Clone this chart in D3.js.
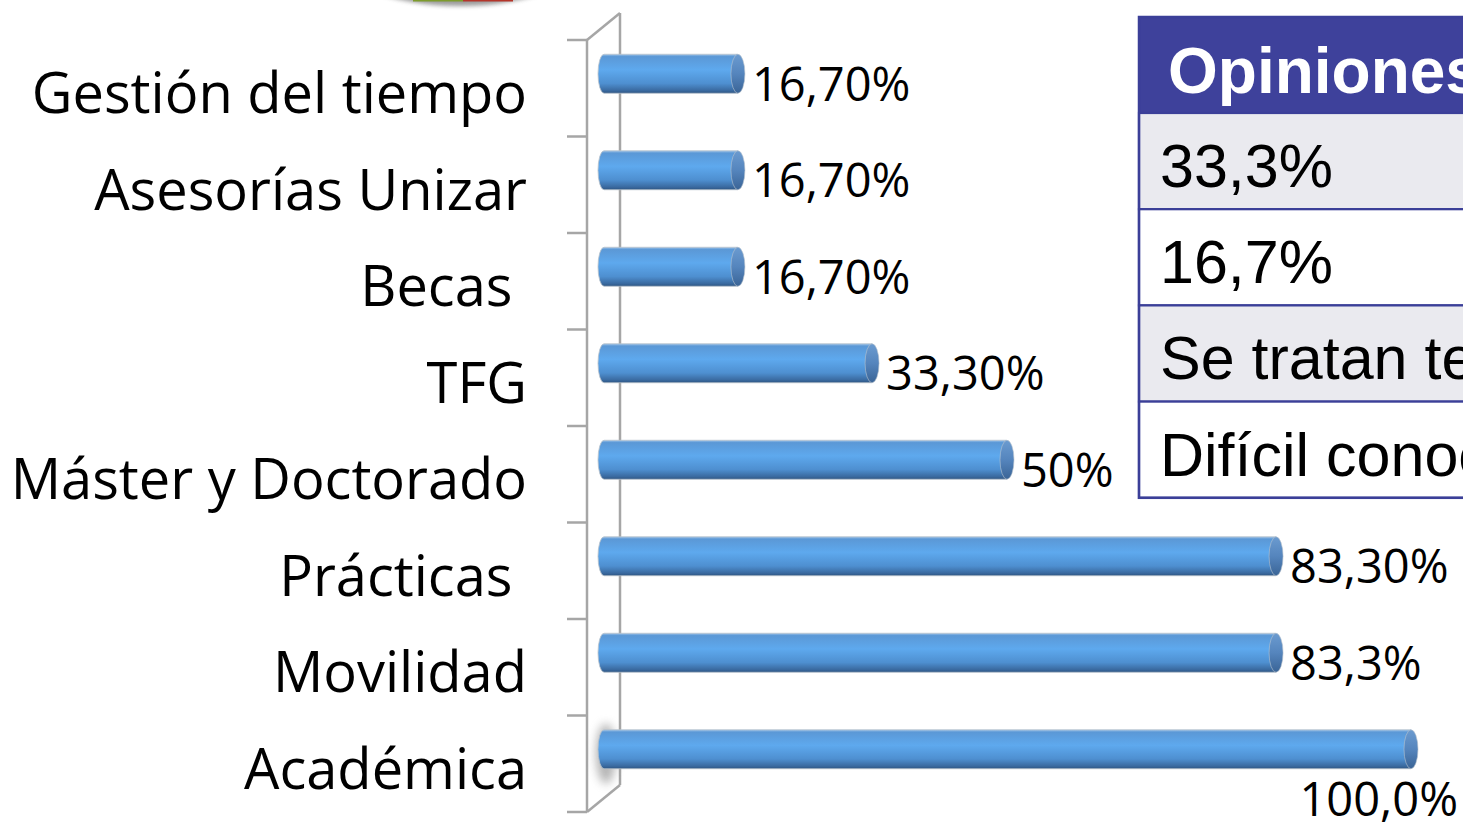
<!DOCTYPE html>
<html>
<head>
<meta charset="utf-8">
<script src="https://cdn.jsdelivr.net/npm/d3@7"></script>
<style>
html,body{margin:0;padding:0;background:#fff;overflow:hidden;}
svg{display:block;}
text{white-space:pre;}
</style>
</head>
<body>
<script>
// ---- data ----
const categories = ["Gestión del tiempo", "Asesorías Unizar", "Becas ", "TFG", "Máster y Doctorado", "Prácticas ", "Movilidad", "Académica"];
const values = [16.7, 16.7, 16.7, 33.3, 50, 83.3, 83.3, 100];
const valueLabels = ["16,70%", "16,70%", "16,70%", "33,30%", "50%", "83,30%", "83,3%", "100,0%"];
const tableHeader = "Opiniones";
const tableRows = ["33,3%", "16,7%", "Se tratan temas", "Difícil conocer"];

const W = 1463, H = 822;
const svg = d3.select("body").append("svg").attr("width", W).attr("height", H);
const defs = svg.append("defs");

// gradients
const g1 = defs.append("linearGradient").attr("id","barGrad").attr("x1",0).attr("y1",0).attr("x2",0).attr("y2",1);
[[0,"#9ec3e8"],[0.06,"#5b98d6"],[0.4,"#5ea9ee"],[0.75,"#4e8fd0"],[0.93,"#3a6aa0"],[1,"#2e5582"]].forEach(s=>g1.append("stop").attr("offset",s[0]).attr("stop-color",s[1]));
const g2 = defs.append("linearGradient").attr("id","capGrad").attr("x1",0).attr("y1",0).attr("x2",0).attr("y2",1);
[[0,"#6b9bd0"],[0.5,"#5585bd"],[1,"#3a6496"]].forEach(s=>g2.append("stop").attr("offset",s[0]).attr("stop-color",s[1]));
defs.append("filter").attr("id","blur").attr("x","-50%").attr("y","-50%").attr("width","200%").attr("height","200%")
  .append("feGaussianBlur").attr("stdDeviation",5);
defs.append("filter").attr("id","blur2").attr("x","-50%").attr("y","-50%").attr("width","200%").attr("height","200%")
  .append("feGaussianBlur").attr("stdDeviation",2);

// top decoration (partial shape cut by the frame)
const deco = svg.append("g");
deco.append("ellipse").attr("cx",460).attr("cy",-52).attr("rx",132).attr("ry",58).attr("fill","#8a8a8a").attr("filter","url(#blur2)").attr("opacity",0.85);
deco.append("ellipse").attr("cx",460).attr("cy",-54).attr("rx",126).attr("ry",55).attr("fill","#f4f4f4");
deco.append("rect").attr("x",413).attr("y",-10).attr("width",50).attr("height",11.5).attr("fill","#7d9b2c");
deco.append("rect").attr("x",463).attr("y",-10).attr("width",50).attr("height",11.5).attr("fill","#b4352a");

// scales
const y = d3.scaleBand().domain(categories).range([40, 812]).padding(0);
const x = d3.scaleLinear().domain([0, 100]).range([610, 1418]);

// wall / axis
const wall = svg.append("g").attr("stroke","#a6a6a6").attr("stroke-width",2.5).attr("fill","none");
const yTop = y.range()[0], yBot = y.range()[1], dx = 33, dy = 27, xf = 587;
wall.append("line").attr("x1",xf).attr("y1",yTop).attr("x2",xf).attr("y2",yBot);
wall.append("line").attr("x1",xf+dx).attr("y1",yTop-dy).attr("x2",xf+dx).attr("y2",yBot-dy);
wall.append("line").attr("x1",xf).attr("y1",yTop).attr("x2",xf+dx).attr("y2",yTop-dy);
wall.append("line").attr("x1",xf).attr("y1",yBot).attr("x2",xf+dx).attr("y2",yBot-dy);
const tickYs = categories.map(c=>y(c)).concat([yBot]);
wall.selectAll("line.tick").data(tickYs).join("line").attr("class","tick")
  .attr("x1",567).attr("x2",xf).attr("y1",d=>d).attr("y2",d=>d);

// shadow for the longest bar against the wall
const lastC = categories[categories.length-1];
svg.append("ellipse").attr("cx",606).attr("cy",y(lastC)+y.bandwidth()/2-10).attr("rx",10).attr("ry",30)
  .attr("fill","#777").attr("opacity",0.55).attr("filter","url(#blur)");

// category labels
svg.append("g").selectAll("text").data(categories).join("text")
  .attr("x",527).attr("y",d=>y(d)+y.bandwidth()/2+25)
  .attr("text-anchor","end")
  .attr("font-family","Open Sans, sans-serif")
  .attr("font-size",56).attr("fill","#000")
  .text(d=>d);

// bars
const bh = 39, rx = 7;
const bars = svg.append("g").selectAll("g").data(categories).join("g")
  .attr("transform",d=>`translate(0,${y(d)+y.bandwidth()/2-14.5})`);
bars.append("path")
  .attr("d",(d,i)=>{
    const x0 = 604, x1 = x(values[i]) - rx;
    return `M${x1},${-bh/2} L${x0},${-bh/2} A6,${bh/2} 0 0 0 ${x0},${bh/2} L${x1},${bh/2} Z`;
  })
  .attr("fill","url(#barGrad)").attr("stroke","#b9c3cc").attr("stroke-width",0.8);
bars.append("ellipse")
  .attr("cx",(d,i)=>x(values[i]) - rx).attr("cy",0).attr("rx",rx).attr("ry",bh/2)
  .attr("fill","url(#capGrad)").attr("stroke","#b9c3cc").attr("stroke-width",0.6);

// value labels
svg.append("g").selectAll("text").data(categories).join("text")
  .attr("x",(d,i)=> values[i] >= 100 ? x(values[i]) + 40 : x(values[i]) + 7)
  .attr("y",(d,i)=> y(d)+y.bandwidth()/2-14.5 + (values[i] >= 100 ? 67 : 27))
  .attr("text-anchor",(d,i)=> values[i] >= 100 ? "end" : "start")
  .attr("font-family","Open Sans, sans-serif")
  .attr("font-size",47).attr("fill","#000")
  .text((d,i)=>valueLabels[i]);

// table
const tx = 1139, tTop = 17, headH = 96, rowH = 96.2, tW = 400;
const tab = svg.append("g");
tab.append("rect").attr("x",tx).attr("y",tTop).attr("width",tW).attr("height",headH).attr("fill","#3e419b");
tab.selectAll("rect.row").data(tableRows).join("rect").attr("class","row")
  .attr("x",tx).attr("y",(d,i)=>tTop+headH+i*rowH).attr("width",tW).attr("height",rowH)
  .attr("fill",(d,i)=> i%2===0 ? "#eaeaef" : "#ffffff")
  .attr("stroke","#3b3f98").attr("stroke-width",2.2);
tab.append("rect").attr("x",tx).attr("y",tTop).attr("width",tW).attr("height",headH+tableRows.length*rowH)
  .attr("fill","none").attr("stroke","#3b3f98").attr("stroke-width",2.5);
tab.append("text").attr("x",1168).attr("y",tTop+76)
  .attr("font-family","Liberation Sans, Arial, sans-serif").attr("font-weight","bold")
  .attr("font-size",64).attr("fill","#fff").text(tableHeader);
tab.selectAll("text.row").data(tableRows).join("text").attr("class","row")
  .attr("x",1160).attr("y",(d,i)=>tTop+headH+i*rowH+74)
  .attr("font-family","Liberation Sans, Arial, sans-serif")
  .attr("font-size",61).attr("fill","#000").text(d=>d);
</script>
</body>
</html>
